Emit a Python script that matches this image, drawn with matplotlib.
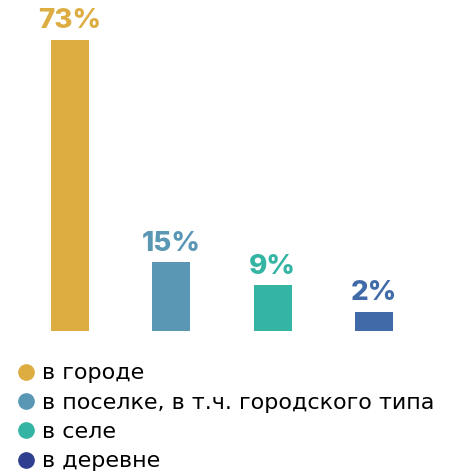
import matplotlib.pyplot as plt
from matplotlib.lines import Line2D

# data
categories = ['в городе', 'в поселке, в т.ч. городского типа', 'в селе', 'в деревне']
values = [73, 15, 9, 2]
labels = ['73%', '15%', '9%', '2%']
bar_colors = ['#DEAD42', '#5A97B4', '#34B5A4', '#416BA8']
legend_colors = ['#DEAD42', '#5A97B4', '#34B5A4', '#2E3F8F']

fig = plt.figure(figsize=(4.51, 4.72), dpi=100)
ax = fig.add_axes([0.043, 0.2987, 0.898, 0.674])

floor = -3.0
x = range(len(values))
ax.bar(x, [v - floor for v in values], bottom=floor, width=0.375, color=bar_colors)
for i, v in enumerate(values):
    ax.text(i, v + 1.4, labels[i], ha='center', va='bottom', color=bar_colors[i],
            fontsize=20, fontweight='heavy', family='Inter')

ax.set_xlim(-0.5, 3.5)
ax.set_ylim(floor, 80)
ax.axis('off')

handles = [Line2D([], [], marker='o', linestyle='', markersize=11, color=c) for c in legend_colors]
fig.legend(handles, categories, loc='upper left', bbox_to_anchor=(0.008, 0.249),
           frameon=False, handletextpad=0.12, labelspacing=0.42, borderaxespad=0,
           handlelength=1.2, prop={'family': 'DejaVu Sans', 'size': 16})

plt.savefig('out.png', dpi=100)
